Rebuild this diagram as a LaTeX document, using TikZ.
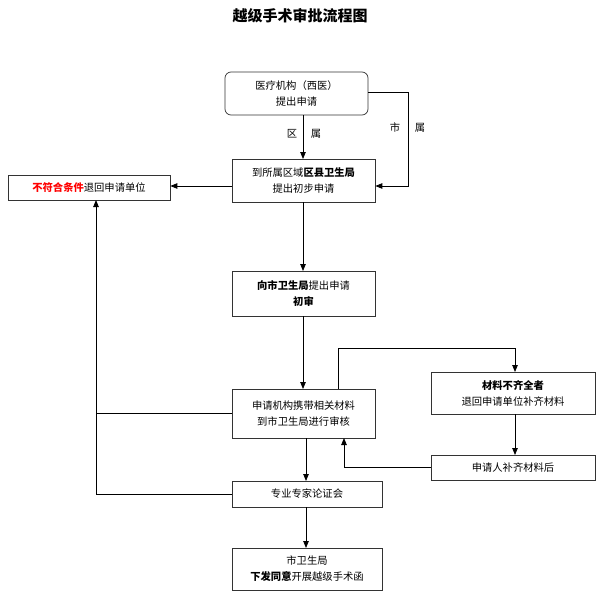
\documentclass[tikz,border=0pt]{standalone}
\usepackage{fontspec}
\setmainfont{Noto Sans CJK SC}
\usetikzlibrary{arrows.meta}
\begin{document}
\begin{tikzpicture}[x=1pt,y=-1pt,
  bx/.style={draw=black!80,line width=0.7pt,align=center,font=\fontsize{10.3}{16}\selectfont,inner sep=0pt},
  ar/.style={-{Triangle[length=7pt,width=5.5pt]},line width=0.8pt},
  ln/.style={line width=0.8pt}]
\useasboundingbox (0,0) rectangle (600,605);
\node[font=\bfseries\fontsize{15}{17}\selectfont] (t) at (300,16) {越级手术审批流程图};
\node[bx,rounded corners=6pt,minimum width=143pt,minimum height=43pt] (A) at (296.5,93.5) {医疗机构（西医）\\提出申请};
\node[bx,minimum width=143pt,minimum height=43pt] (B) at (303.5,180.5) {到所属区域\textbf{区县卫生局}\\提出初步申请};
\node[bx,minimum width=162pt,minimum height=25pt] (C) at (89,187.5) {\textcolor{red}{\textbf{不符合条件}}退回申请单位};
\node[bx,minimum width=143pt,minimum height=45pt] (D) at (303.5,293.5) {\textbf{向市卫生局}提出申请\\\textbf{初审}};
\node[bx,minimum width=143pt,minimum height=49pt] (E) at (303.5,413.5) {申请机构携带相关材料\\到市卫生局进行审核};
\node[bx,minimum width=164pt,minimum height=42pt] (F) at (513,393) {\textbf{材料不齐全者}\\退回申请单位补齐材料};
\node[bx,minimum width=164pt,minimum height=25pt] (G) at (513,467.5) {申请人补齐材料后};
\node[bx,minimum width=150pt,minimum height=26pt] (H) at (307,494) {专业专家论证会};
\node[bx,minimum width=150pt,minimum height=42pt] (I) at (307,569) {市卫生局\\\textbf{下发同意}开展越级手术函};
\draw[ar] (303,115) -- (303,159);
\node[font=\fontsize{10.3}{11}\selectfont] (l1) at (292,134) {区};
\node[font=\fontsize{10.3}{11}\selectfont] (l2) at (316,134) {属};
\draw[ar] (A.east |- 0,92) -- (408,92) -- (408,186) -- (B.east |- 0,186);
\node[font=\fontsize{10.3}{11}\selectfont] (l3) at (395,128) {市};
\node[font=\fontsize{10.3}{11}\selectfont] (l4) at (420,128) {属};
\draw[ar] (B.west |- 0,186) -- (C.east |- 0,186);
\draw[ar] (303,202) -- (303,271);
\draw[ar] (303,316) -- (303,389);
\draw[ar] (338,389) -- (338,348) -- (515,348) -- (515,372);
\draw[ar] (515,414) -- (515,455);
\draw[ar] (G.west) -- (344,467.5) -- (344,438);
\draw[ar] (306,438) -- (306,481);
\draw[ar] (306,507) -- (306,548);
\draw[ln] (E.west) -- (96,413.5);
\draw[ar] (H.west) -- (96,494) -- (96,200);
\end{tikzpicture}
\end{document}
